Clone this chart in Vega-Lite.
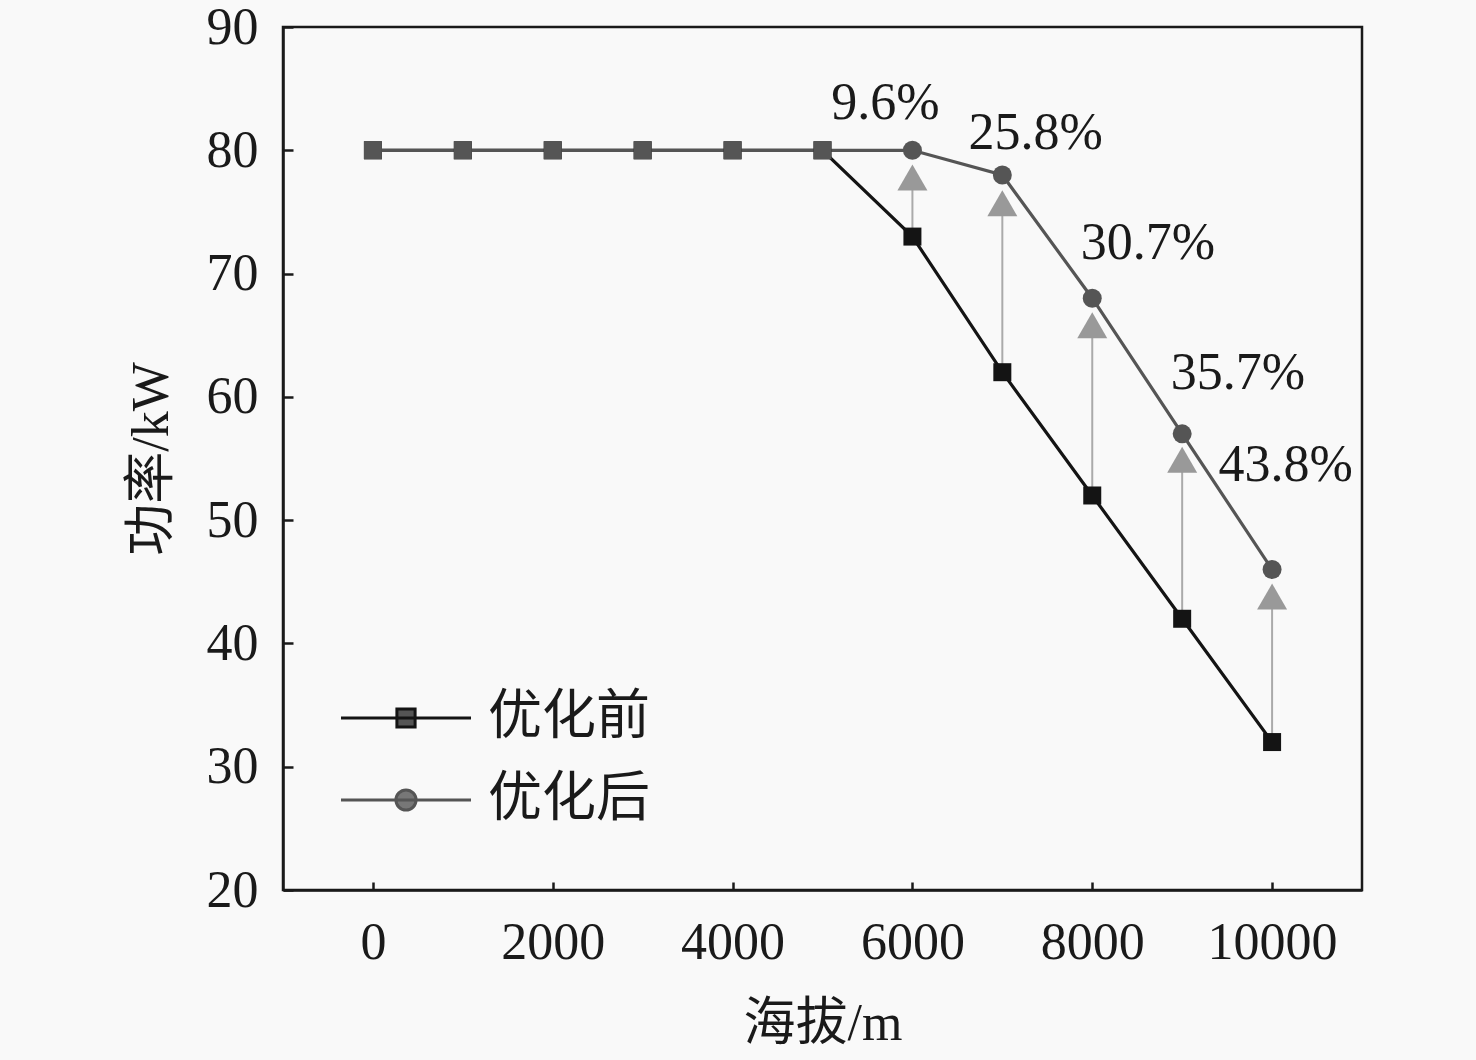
{
  "$schema": "https://vega.github.io/schema/vega-lite/v6.json",
  "width": 1079,
  "height": 863,
  "autosize": "none",
  "padding": {"left": 283, "top": 27, "right": 114, "bottom": 170},
  "background": "#f9f9f9",
  "config": {
    "font": "Liberation Serif, Noto Sans CJK SC",
    "view": {"stroke": "#1a1a1a", "strokeWidth": 2.5},
    "axis": {
      "grid": false,
      "domainColor": "#1a1a1a",
      "domainWidth": 2.5,
      "tickColor": "#1a1a1a",
      "tickWidth": 2.5,
      "labelFont": "Liberation Serif, Noto Sans CJK SC",
      "labelFontSize": 52,
      "labelColor": "#1a1a1a",
      "titleFont": "Liberation Serif, Noto Sans CJK SC",
      "titleFontSize": 52,
      "titleFontWeight": "normal",
      "titleColor": "#1a1a1a"
    }
  },
  "data": {
    "values": [
      {"alt": 0, "优化前": 80, "优化后": 80},
      {"alt": 1000, "优化前": 80, "优化后": 80},
      {"alt": 2000, "优化前": 80, "优化后": 80},
      {"alt": 3000, "优化前": 80, "优化后": 80},
      {"alt": 4000, "优化前": 80, "优化后": 80},
      {"alt": 5000, "优化前": 80, "优化后": 80},
      {"alt": 6000, "优化前": 73, "优化后": 80, "tip": 77.8, "pct": "9.6%", "label_x": 5700, "label_y": 83.8},
      {"alt": 7000, "优化前": 62, "优化后": 78, "tip": 75.7, "pct": "25.8%", "label_x": 7370, "label_y": 81.4},
      {"alt": 8000, "优化前": 52, "优化后": 68, "tip": 65.8, "pct": "30.7%", "label_x": 8620, "label_y": 72.5},
      {"alt": 9000, "优化前": 42, "优化后": 57, "tip": 54.9, "pct": "35.7%", "label_x": 9620, "label_y": 61.9},
      {"alt": 10000, "优化前": 32, "优化后": 46, "tip": 43.8, "pct": "43.8%", "label_x": 10150, "label_y": 54.5}
    ]
  },
  "encoding": {
    "x": {
      "field": "alt",
      "type": "quantitative",
      "scale": {"domain": [-1000, 11000], "nice": false, "zero": false},
      "axis": {
        "values": [0, 2000, 4000, 6000, 8000, 10000],
        "format": "d",
        "tickSize": -8,
        "labelPadding": 35,
        "title": "海拔/m",
        "titlePadding": 30
      }
    }
  },
  "layer": [
    {
      "transform": [{"fold": ["优化前", "优化后"], "as": ["series", "power"]}],
      "mark": {"type": "line", "strokeWidth": 3.2},
      "encoding": {
        "y": {
          "field": "power",
          "type": "quantitative",
          "scale": {"domain": [20, 90], "nice": false, "zero": false},
          "axis": {
            "values": [20, 30, 40, 50, 60, 70, 80, 90],
            "tickSize": -10,
            "labelPadding": 35,
            "title": "功率/kW",
            "titlePadding": 28
          }
        },
        "color": {
          "field": "series",
          "type": "nominal",
          "scale": {"domain": ["优化前", "优化后"], "range": ["#141414", "#555555"]},
          "legend": {
            "orient": "none",
            "legendX": 89,
            "legendY": 657,
            "title": null,
            "padding": 0,
            "labelFontSize": 54,
            "labelColor": "#1a1a1a",
            "labelOffset": 48,
            "labelLimit": 0,
            "rowPadding": 21,
            "symbolSize": 4225,
            "symbolStrokeWidth": 3,
            "encode": {
              "symbols": {
                "update": {
                  "shape": {"signal": "datum.value === '优化前' ? 'M-2,0H2M-0.28,-0.28H0.28V0.28H-0.28Z' : 'M-2,0H2M0.31,0A0.31,0.31 0 1 1 -0.31,0A0.31,0.31 0 1 1 0.31,0Z'"},
                  "stroke": {"signal": "datum.value === '优化前' ? '#555555' : '#8a8a8a'"},
                  "fill": {"signal": "datum.value === '优化前' ? '#555555' : '#777777'"},
                  "opacity": {"value": 1}
                }
              }
            }
          }
        }
      }
    },
    {
      "transform": [{"filter": "isValid(datum.tip)"}],
      "mark": {"type": "rule", "color": "#aaaaaa", "strokeWidth": 2},
      "encoding": {
        "y": {"field": "优化前", "type": "quantitative"},
        "y2": {"field": "tip"}
      }
    },
    {
      "transform": [{"filter": "isValid(datum.tip)"}],
      "mark": {"type": "point", "shape": "triangle-up", "filled": true, "color": "#999999", "opacity": 1, "size": 900},
      "encoding": {
        "y": {"field": "tip", "type": "quantitative"}
      }
    },
    {
      "mark": {"type": "point", "shape": "square", "filled": true, "color": "#141414", "opacity": 1, "size": 324},
      "encoding": {
        "y": {"field": "优化前", "type": "quantitative"}
      }
    },
    {
      "mark": {"type": "point", "filled": true, "color": "#555555", "opacity": 1},
      "encoding": {
        "y": {"field": "优化后", "type": "quantitative"},
        "shape": {"condition": {"test": "datum.alt <= 5000", "value": "square"}, "value": "circle"},
        "size": {"condition": {"test": "datum.alt <= 5000", "value": 324}, "value": 360}
      }
    },
    {
      "transform": [{"filter": "isValid(datum.pct)"}],
      "mark": {"type": "text", "fontSize": 52, "color": "#1a1a1a", "baseline": "middle", "align": "center"},
      "encoding": {
        "x": {"field": "label_x", "type": "quantitative"},
        "y": {"field": "label_y", "type": "quantitative"},
        "text": {"field": "pct"}
      }
    }
  ]
}
